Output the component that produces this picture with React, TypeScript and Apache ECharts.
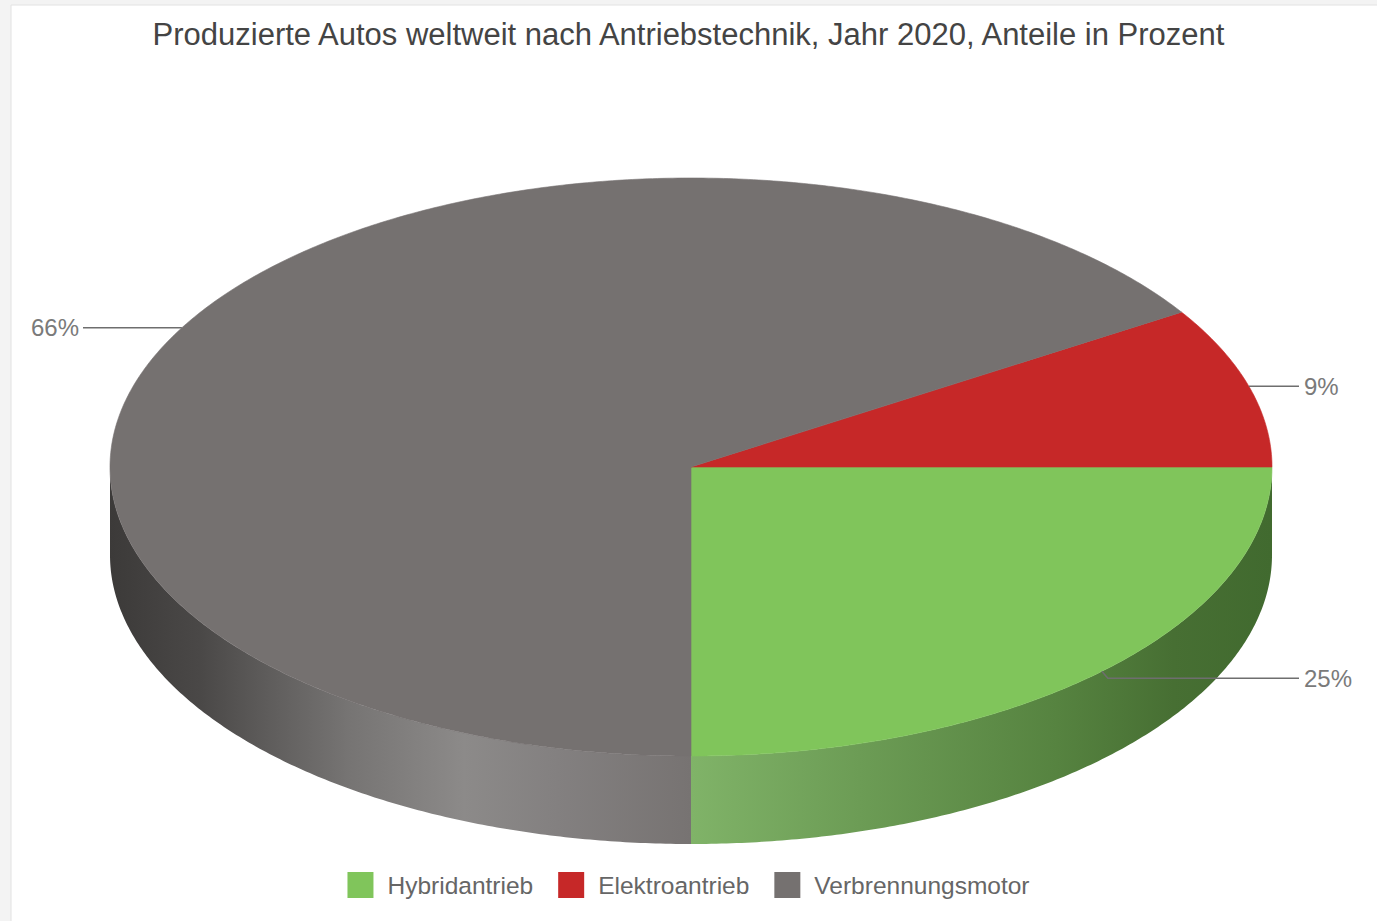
import React, { useEffect, useRef } from "react";
import * as echarts from "echarts";

const titleText =
  "Produzierte Autos weltweit nach Antriebstechnik, Jahr 2020, Anteile in Prozent";
const categories = ["Hybridantrieb", "Elektroantrieb", "Verbrennungsmotor"];
const shares = [25, 9, 66];
const topColors = ["#80c55b", "#c62828", "#757170"];
const sideStops: [number, string][][] = [
  [
    [0, "#80b368"],
    [0.29, "#6c9c55"],
    [0.63, "#568340"],
    [0.83, "#476f33"],
    [1, "#416a2f"],
  ],
  [
    [0, "#8e1d1d"],
    [1, "#8e1d1d"],
  ],
  [
    [0, "#3c3a39"],
    [0.155, "#4a4847"],
    [0.27, "#5e5c5b"],
    [0.41, "#767473"],
    [0.61, "#8c8a89"],
    [0.77, "#838080"],
    [1, "#777372"],
  ],
];

const CX = 691;
const CY = 467;
const RX = 581;
const RY = 289;
const DEPTH = 88;
const START = 90;
const FONT = "'Liberation Sans', Arial, Helvetica, sans-serif";

const total = shares.reduce((a, b) => a + b, 0);

function sliceRange(i: number): [number, number] {
  let before = 0;
  for (let k = 0; k < i; k++) before += shares[k];
  const hi = START - (before / total) * 360;
  const lo = START - ((before + shares[i]) / total) * 360;
  let l = lo;
  let h = hi;
  while (l < 0) {
    l += 360;
    h += 360;
  }
  while (l >= 360) {
    l -= 360;
    h -= 360;
  }
  return [l, h];
}

function pt(t: number, dy = 0): number[] {
  const r = (t * Math.PI) / 180;
  return [CX + RX * Math.cos(r), CY + RY * Math.sin(r) + dy];
}

function arc(a: number, b: number, dy = 0): number[][] {
  const pts: number[][] = [];
  const n = Math.max(2, Math.ceil(Math.abs(b - a) / 0.5));
  for (let k = 0; k <= n; k++) pts.push(pt(a + ((b - a) * k) / n, dy));
  return pts;
}

export default function App() {
  const ref = useRef<HTMLDivElement>(null);
  useEffect(() => {
    if (!ref.current) return;
    const chart = echarts.init(ref.current, undefined, { renderer: "svg" });

    const data = categories.map((c, i) => ({ name: c, value: shares[i] }));

    const renderSide = (params: any, api: any) => {
      const i = params.dataIndex;
      const [lo, hi] = sliceRange(i);
      const children: any[] = [];
      const windows: [number, number][] = [
        [0, 180],
        [360, 540],
      ];
      windows.forEach(([w0, w1]) => {
        const a = Math.max(lo, w0);
        const b = Math.min(hi, w1);
        if (b - a > 0.01) {
          const top = arc(a, b, 0);
          const bottom = arc(b, a, DEPTH);
          children.push({
            type: "polygon",
            shape: { points: top.concat(bottom) },
            style: {
              fill: new echarts.graphic.LinearGradient(
                0,
                0,
                1,
                0,
                sideStops[i].map(([o, c]) => ({ offset: o, color: c }))
              ),
              stroke: null,
            },
          });
        }
      });
      return { type: "group", children };
    };

    const renderTop = (params: any, api: any) => {
      const i = params.dataIndex;
      const val = api.value(0);
      const [lo, hi] = sliceRange(i);
      const pts = [[CX, CY]].concat(arc(lo, hi, 0));
      const mid = (lo + hi) / 2;
      const r = (mid * Math.PI) / 180;
      const anchor = pt(mid);
      const right = Math.cos(r) >= 0;
      const endX = right ? CX + RX + 27 : CX - RX - 27;
      const front = Math.sin(r) > 0.3;
      const ly = front ? anchor[1] + 7 : anchor[1];
      const linePts = front
        ? [anchor, [anchor[0] + 6, ly], [endX, ly]]
        : [anchor, [endX, ly]];
      return {
        type: "group",
        children: [
          {
            type: "polygon",
            shape: { points: pts },
            style: { fill: topColors[i], stroke: topColors[i], lineWidth: 0.6 },
          },
          {
            type: "polyline",
            shape: { points: linePts },
            style: { stroke: "#6e6e6e", lineWidth: 1.5, fill: null },
            z2: 10,
          },
          {
            type: "text",
            x: right ? endX + 5 : endX - 4,
            y: ly,
            style: {
              text: Math.round(val) + "%",
              fill: "#7a7a7a",
              font: `24px ${FONT}`,
              align: right ? "left" : "right",
              verticalAlign: "middle",
            },
            z2: 10,
          },
        ],
      };
    };

    chart.setOption({
      animation: false,
      backgroundColor: "#f3f3f3",
      title: {
        text: titleText,
        left: "center",
        top: 14,
        textStyle: {
          fontFamily: FONT,
          fontSize: 31,
          fontWeight: "normal",
          color: "#444444",
        },
      },
      legend: {
        data: categories,
        bottom: 18,
        left: "center",
        icon: "rect",
        itemWidth: 26,
        itemHeight: 26,
        itemGap: 25,
        selectedMode: false,
        textStyle: {
          fontFamily: FONT,
          fontSize: 24.5,
          color: "#666666",
          padding: [0, 0, 0, 9],
        },
      },
      graphic: [
        {
          type: "rect",
          shape: { x: 11, y: 5, width: 1400, height: 1000 },
          style: { fill: "#ffffff", stroke: "#e2e2e2", lineWidth: 1 },
          z: -10,
          silent: true,
        },
      ],
      series: [
        {
          type: "pie",
          radius: [0, 0],
          center: [CX, CY],
          silent: true,
          label: { show: false },
          labelLine: { show: false },
          data: data.map((d, i) => ({ ...d, itemStyle: { color: topColors[i] } })),
        },
        {
          type: "custom",
          name: "sides",
          coordinateSystem: "none",
          renderItem: renderSide,
          data: shares,
          z: 2,
          silent: true,
        },
        {
          type: "custom",
          name: "tops",
          coordinateSystem: "none",
          renderItem: renderTop,
          data: shares,
          z: 3,
          silent: true,
        },
      ],
    });
    return () => chart.dispose();
  }, []);
  return (
    <div
      ref={ref}
      style={{ position: "absolute", left: 0, top: 0, width: 1377, height: 921 }}
    />
  );
}
